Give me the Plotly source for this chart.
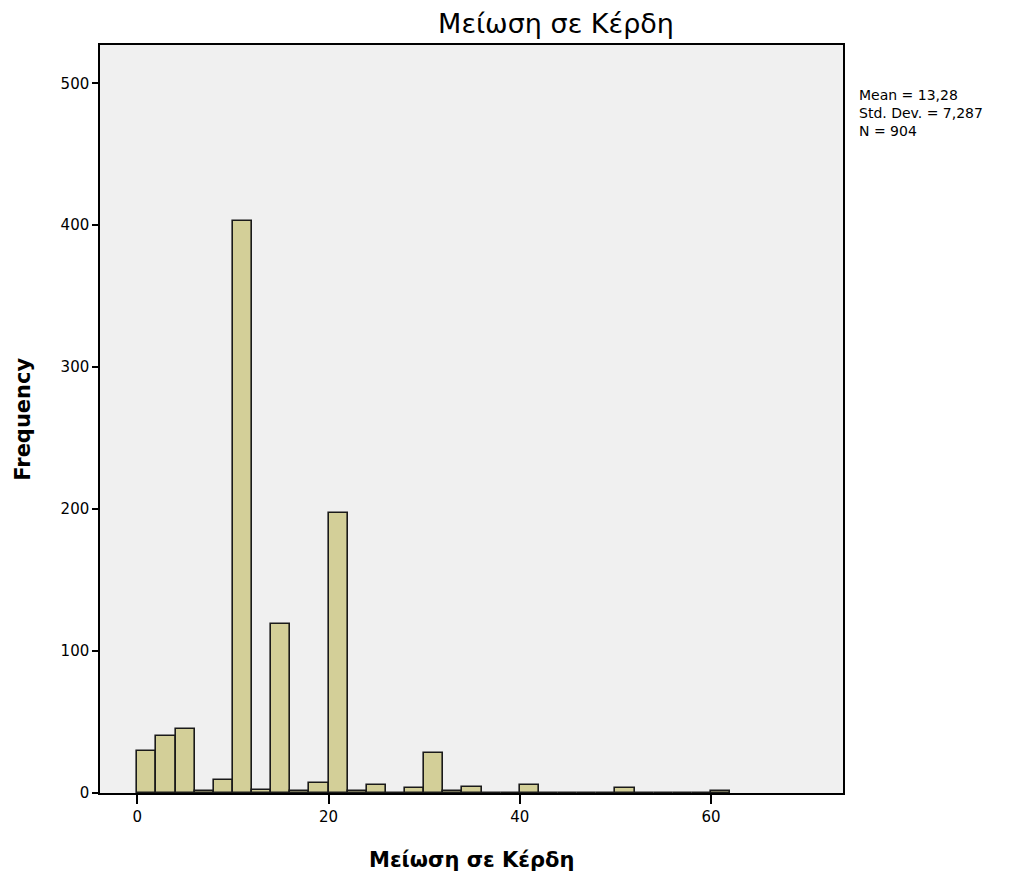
import plotly.graph_objects as go

# histogram bins (width 2) and counts
bin_start = [0, 2, 4, 6, 8, 10, 12, 14, 16, 18, 20, 22, 24, 26, 28, 30, 32, 34,
             36, 38, 40, 42, 44, 46, 48, 50, 52, 54, 56, 58, 60]
counts = [29, 40, 45, 1, 9, 403, 2, 119, 1, 7, 197, 1, 5, 0, 3, 28, 1, 4,
          0, 0, 5, 0, 0, 0, 0, 3, 0, 0, 0, 0, 1]
bin_width = 2

x_ticks = [0, 20, 40, 60]
y_ticks = [0, 100, 200, 300, 400, 500]

title_text = "Μείωση σε Κέρδη"
x_title = "Μείωση σε Κέρδη"
y_title = "Frequency"
stats_text = "Mean = 13,28<br>Std. Dev. = 7,287<br>N = 904"

_BAR = "#D3CF98"
_PLOT_BG = "#F0F0F0"
_FONT = "DejaVu Sans, sans-serif"

centers = [s + bin_width / 2 for s in bin_start]

# page body has an 8px margin, so the figure is sized to fit inside it
W, H = 995, 863

fig = go.Figure(go.Bar(
    x=centers, y=counts, width=bin_width,
    marker=dict(color=_BAR, line=dict(color="#1a1a1a", width=1.6)),
    hoverinfo="x+y",
))

fig.update_layout(
    width=W, height=H,
    paper_bgcolor="white",
    plot_bgcolor=_PLOT_BG,
    font=dict(family=_FONT, color="#000000", size=15),
    margin=dict(l=92, r=160, t=37, b=78),
    showlegend=False,
    bargap=0,
    title=dict(
        text=title_text, x=548 / W, xanchor="center",
        y=1 - 16 / H, yanchor="middle",
        font=dict(family=_FONT, size=27, color="#000000"),
    ),
    xaxis=dict(
        range=[-3.9, 73.8], tickvals=x_ticks, ticks="outside", ticklen=9,
        tickwidth=2, tickcolor="#000000", showgrid=False, zeroline=False,
        showline=True, linecolor="#000000", linewidth=1.5, mirror=True,
        tickfont=dict(size=15),
    ),
    yaxis=dict(
        range=[-0.3, 527], tickvals=y_ticks, ticks="outside", ticklen=6,
        tickwidth=2, tickcolor="#000000", showgrid=False, zeroline=False,
        showline=True, linecolor="#000000", linewidth=1.5, mirror=True,
        tickfont=dict(size=15),
    ),
)

fig.add_annotation(
    text=f"<b>{x_title}</b>", xref="paper", yref="paper",
    x=0.5, y=-0.09, xanchor="center", yanchor="middle", showarrow=False,
    font=dict(family=_FONT, size=21, color="#000000"),
)
fig.add_annotation(
    text=f"<b>{y_title}</b>", xref="paper", yref="paper",
    x=-0.104, y=0.5, xanchor="center", yanchor="middle", showarrow=False,
    textangle=-90,
    font=dict(family=_FONT, size=21, color="#000000"),
)
fig.add_annotation(
    text=stats_text, xref="paper", yref="paper",
    x=1.0188, y=0.947, xanchor="left", yanchor="top",
    align="left", showarrow=False,
    font=dict(family=_FONT, size=14, color="#000000"),
)

fig.write_html("out.html")
